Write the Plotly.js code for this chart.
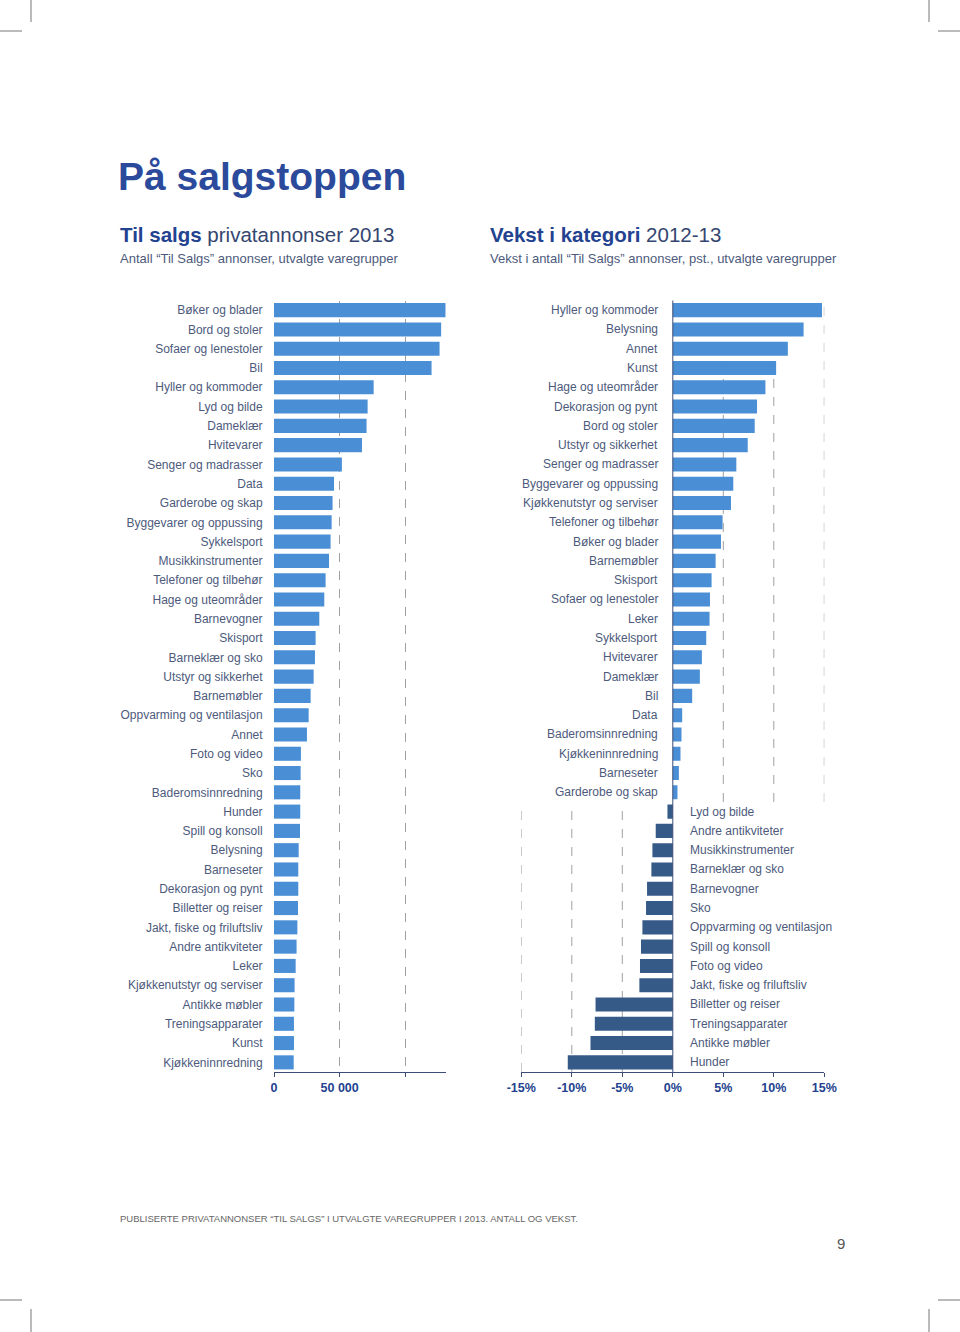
<!DOCTYPE html>
<html>
<head>
<meta charset="utf-8">
<script src="https://cdn.plot.ly/plotly-3.0.1.min.js"></script>
<style>html,body{margin:0;padding:0;background:#fff}#chart{width:960px;height:1332px}</style>
</head>
<body>
<div id="chart"></div>
<script>
// ---- Data ----
const leftCats = ["Bøker og blader","Bord og stoler","Sofaer og lenestoler","Bil","Hyller og kommoder","Lyd og bilde","Dameklær","Hvitevarer","Senger og madrasser","Data","Garderobe og skap","Byggevarer og oppussing","Sykkelsport","Musikkinstrumenter","Telefoner og tilbehør","Hage og uteområder","Barnevogner","Skisport","Barneklær og sko","Utstyr og sikkerhet","Barnemøbler","Oppvarming og ventilasjon","Annet","Foto og video","Sko","Baderomsinnredning","Hunder","Spill og konsoll","Belysning","Barneseter","Dekorasjon og pynt","Billetter og reiser","Jakt, fiske og friluftsliv","Andre antikviteter","Leker","Kjøkkenutstyr og serviser","Antikke møbler","Treningsapparater","Kunst","Kjøkkeninnredning"];
const leftVals = [130600,127300,126100,120000,75900,71300,70500,67000,51700,45700,44600,43900,43100,41900,39300,38300,34500,31700,31200,30200,27900,26400,25100,20500,20300,20000,20000,19800,18800,18500,18500,18300,17800,17200,16500,15700,15500,15200,15200,15000];
const leftTickVals = [0,50000,100000];
const leftTickText = ["0","50 000",""];

const rightCats = ["Hyller og kommoder","Belysning","Annet","Kunst","Hage og uteområder","Dekorasjon og pynt","Bord og stoler","Utstyr og sikkerhet","Senger og madrasser","Byggevarer og oppussing","Kjøkkenutstyr og serviser","Telefoner og tilbehør","Bøker og blader","Barnemøbler","Skisport","Sofaer og lenestoler","Leker","Sykkelsport","Hvitevarer","Dameklær","Bil","Data","Baderomsinnredning","Kjøkkeninnredning","Barneseter","Garderobe og skap","Lyd og bilde","Andre antikviteter","Musikkinstrumenter","Barneklær og sko","Barnevogner","Sko","Oppvarming og ventilasjon","Spill og konsoll","Foto og video","Jakt, fiske og friluftsliv","Billetter og reiser","Treningsapparater","Antikke møbler","Hunder"];
const rightVals = [14.77,12.95,11.39,10.23,9.17,8.34,8.11,7.42,6.29,5.99,5.76,4.93,4.77,4.24,3.84,3.68,3.64,3.31,2.88,2.68,1.92,0.93,0.86,0.76,0.60,0.46,-0.53,-1.69,-2.02,-2.12,-2.55,-2.65,-3.01,-3.15,-3.25,-3.31,-7.65,-7.72,-8.15,-10.40];
const rightTickVals = [-15,-10,-5,0,5,10,15];
const rightTickText = ["-15%","-10%","-5%","0%","5%","10%","15%"];

// ---- Layout helpers ----
const W = 960, H = 1332;
const px = v => v / W;
const py = v => 1 - v / H;
const FONT = "Liberation Sans, Arial, Helvetica, sans-serif";
const labelColor = "#4d5a7c";
const navy = "#23428f";
const posColor = "#4a8fd6";
const negColor = "#365a87";
const gridCol = "#a0a0a0";
const LBL = 12;

const yTop = 300.5, yBot = 1072;
const yDom = [py(yBot), py(yTop)];

const traces = [
  {type:"bar", orientation:"h", x:leftVals, y:leftCats, xaxis:"x", yaxis:"y",
   marker:{color:posColor}, hoverinfo:"skip"},
  {type:"bar", orientation:"h", x:rightVals, y:rightCats, xaxis:"x2", yaxis:"y2",
   marker:{color:rightVals.map(v => v >= 0 ? posColor : negColor)}, hoverinfo:"skip"}
];

const annotations = [];
// right-chart category labels
rightCats.forEach((c, i) => {
  const pos = rightVals[i] >= 0;
  annotations.push({xref:"x2", yref:"y2", x:0, y:c, text:c, showarrow:false,
    xanchor: pos ? "right" : "left", xshift: pos ? -13 : 15,
    font:{family:FONT, size:LBL, color:labelColor}});
});
// titles
const addText = (x, y, text, size, color, extra) => annotations.push(Object.assign({
  xref:"paper", yref:"paper", x:px(x), y:py(y), text:text, showarrow:false,
  xanchor:"left", yanchor:"middle", font:{family:FONT, size:size, color:color}}, extra || {}));

addText(116, 176, "<b>På salgstoppen</b>", 39, "#2b4a9b");
addText(118, 235, "<b>Til salgs</b><span style='color:#34466f'> privatannonser 2013</span>", 20.5, navy);
addText(118, 258, "Antall “Til Salgs” annonser, utvalgte varegrupper", 13, labelColor);
addText(488, 235, "<b>Vekst i kategori</b><span style='color:#34466f'> 2012-13</span>", 20.5, navy);
addText(488, 258, "Vekst i antall “Til Salgs” annonser, pst., utvalgte varegrupper", 13, labelColor);
addText(118, 1218, "PUBLISERTE PRIVATANNONSER “TIL SALGS” I UTVALGTE VAREGRUPPER I 2013. ANTALL OG VEKST.", 9.5, "#666");
addText(835, 1243, "9", 15, "#555");

// shapes: split dashed grid for right chart + crop marks
const shapes = [];
const nNeg = rightVals.filter(v => v < 0).length;
const split = yDom[0] + (yDom[1] - yDom[0]) * nNeg / rightVals.length;
rightTickVals.forEach(v => {
  if (v === 0) return;
  shapes.push({type:"line", xref:"x2", yref:"paper", x0:v, x1:v,
    y0: v > 0 ? split : yDom[0], y1: v > 0 ? yDom[1] : split,
    line:{color:gridCol, width:1, dash:"dash"}, layer:"below"});
});
const mark = (x0,y0,x1,y1) => shapes.push({type:"line", xref:"paper", yref:"paper",
  x0:px(x0), y0:py(y0), x1:px(x1), y1:py(y1), line:{color:"#777", width:1}});
mark(31,0,31,22); mark(0,31,22,31);
mark(929,0,929,22); mark(938,31,960,31);
mark(31,1309,31,1332); mark(0,1300,22,1300);
mark(929,1309,929,1332); mark(938,1300,960,1300);
// zero line for right chart
shapes.push({type:"line", xref:"x2", yref:"paper", x0:0, x1:0, y0:yDom[0], y1:yDom[1],
  line:{color:"#3d4d78", width:1}, layer:"above"});

const layout = {
  width:W, height:H, margin:{l:0,r:0,t:0,b:0},
  paper_bgcolor:"#fff", plot_bgcolor:"rgba(0,0,0,0)",
  showlegend:false, hovermode:false, bargap:0.27,
  font:{family:FONT, color:labelColor},
  xaxis:{domain:[px(274), px(446)], range:[0,131000], anchor:"y",
    tickvals:leftTickVals, ticktext:leftTickText,
    showline:true, linecolor:"#3d4d78", linewidth:1,
    ticks:"outside", ticklen:4, tickcolor:"#3d4d78",
    showgrid:true, gridcolor:gridCol, griddash:"dash", gridwidth:1,
    zeroline:false, fixedrange:true,
    tickfont:{family:FONT, size:12.5, color:navy, weight:"bold"}},
  yaxis:{domain:yDom, anchor:"x", autorange:"reversed", type:"category",
    showline:false, showgrid:false, zeroline:false,
    ticks:"outside", ticklen:8, tickcolor:"rgba(0,0,0,0)",
    tickfont:{family:FONT, size:LBL, color:labelColor}, fixedrange:true},
  xaxis2:{domain:[px(521.3), px(824.3)], range:[-15,15], anchor:"y2",
    tickvals:rightTickVals, ticktext:rightTickText,
    showline:true, linecolor:"#3d4d78", linewidth:1,
    ticks:"outside", ticklen:4, tickcolor:"#3d4d78",
    showgrid:false, zeroline:false, fixedrange:true,
    tickfont:{family:FONT, size:12.5, color:navy, weight:"bold"}},
  yaxis2:{domain:yDom, anchor:"x2", autorange:"reversed", type:"category",
    showticklabels:false, showline:false, showgrid:false, zeroline:false, ticks:"", fixedrange:true},
  annotations:annotations,
  shapes:shapes
};

Plotly.newPlot("chart", traces, layout, {staticPlot:true, displayModeBar:false});
</script>
</body>
</html>
